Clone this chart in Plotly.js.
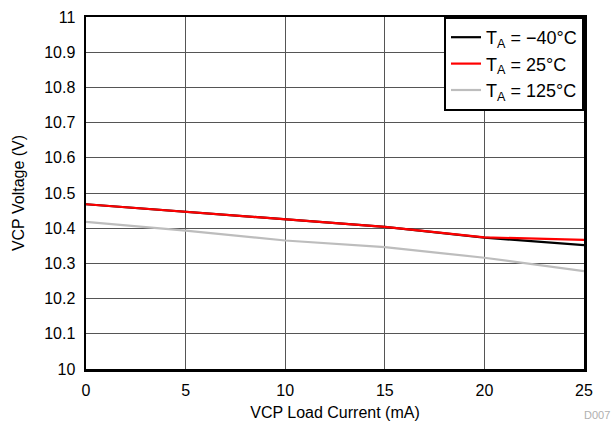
<!DOCTYPE html>
<html>
<head>
<meta charset="utf-8">
<script src="https://cdn.plot.ly/plotly-3.0.1.min.js"></script>
<style>html,body{margin:0;padding:0;background:#fff;}#chart{width:613px;height:421px;}</style>
</head>
<body>
<div id="chart"></div>
<script>
const loadCurrent = [0, 5, 10, 15, 20, 25];
const vMinus40 = [10.468, 10.447, 10.426, 10.404, 10.373, 10.352];
const v25 = [10.468, 10.447, 10.426, 10.404, 10.374, 10.367];
const v125 = [10.418, 10.393, 10.365, 10.346, 10.316, 10.278];
const seriesNames = ['T<sub>A</sub> = \u221240\u00B0C', 'T<sub>A</sub> = 25\u00B0C', 'T<sub>A</sub> = 125\u00B0C'];
const xTicks = [0, 5, 10, 15, 20, 25];
const yTicks = [10, 10.1, 10.2, 10.3, 10.4, 10.5, 10.6, 10.7, 10.8, 10.9, 11];
const yTickText = ['10', '10.1', '10.2', '10.3', '10.4', '10.5', '10.6', '10.7', '10.8', '10.9', '11'];

const font = 'Liberation Sans, Arial, sans-serif';
const traces = [
  {x: loadCurrent, y: vMinus40, name: seriesNames[0], mode: 'lines', line: {color: '#000000', width: 2.2}},
  {x: loadCurrent, y: v25, name: seriesNames[1], mode: 'lines', line: {color: '#ff0000', width: 2.2}},
  {x: loadCurrent, y: v125, name: seriesNames[2], mode: 'lines', line: {color: '#bdbdbd', width: 2.2}}
];
const layout = {
  width: 613, height: 421,
  margin: {l: 86, r: 29, t: 17, b: 52},
  paper_bgcolor: '#ffffff', plot_bgcolor: '#ffffff',
  font: {family: font, size: 16, color: '#000'},
  showlegend: true,
  legend: {x: 1, y: 1, xanchor: 'right', yanchor: 'top', bgcolor: '#ffffff', bordercolor: '#000', borderwidth: 2,
           font: {family: font, size: 18, color: '#000'}, tracegroupgap: 0, itemwidth: 30},
  xaxis: {range: [0, 25], tickvals: xTicks, ticktext: xTicks.map(String), showgrid: true, gridcolor: '#555', gridwidth: 1,
          zeroline: false, showline: true, mirror: true, linecolor: '#000', linewidth: 2.5,
          ticks: 'outside', ticklen: 5, tickcolor: 'rgba(0,0,0,0)', tickfont: {size: 16},
          title: {text: 'VCP Load Current (mA)', font: {size: 16}, standoff: 9}},
  yaxis: {range: [10, 11], tickvals: yTicks, ticktext: yTickText, showgrid: true, gridcolor: '#555', gridwidth: 1,
          zeroline: false, showline: true, mirror: true, linecolor: '#000', linewidth: 2.5,
          ticks: 'outside', ticklen: 5, tickcolor: 'rgba(0,0,0,0)', tickfont: {size: 16},
          title: {text: 'VCP Voltage (V)', font: {size: 16}, standoff: 16}},
  annotations: [{text: 'D007', xref: 'paper', yref: 'paper', x: 1.0, y: 0, xanchor: 'right', yanchor: 'top', xshift: 28, yshift: -38,
                 showarrow: false, font: {family: font, size: 11, color: '#b0b0b0'}}]
};
Plotly.newPlot('chart', traces, layout, {displayModeBar: false, staticPlot: true});
</script>
</body>
</html>
